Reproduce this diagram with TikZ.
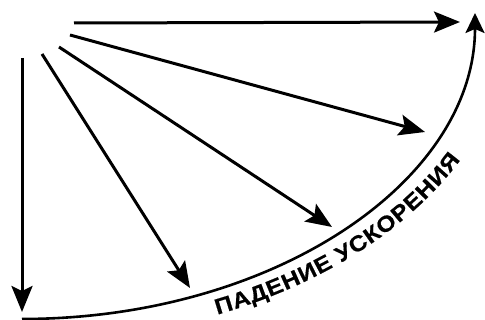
\documentclass[tikz,border=0pt]{standalone}
\usepackage{fontspec}
\setmainfont{Liberation Sans}
\newfontfamily\lblfont[FakeStretch=1.12,FakeBold=0.6]{Liberation Sans}
\usetikzlibrary{arrows.meta,decorations.text}
\begin{document}
\begin{tikzpicture}[x=1pt,y=1pt,
  vec/.style={line width=3pt,-{Stealth[length=26pt,width=21pt,inset=5pt]}},
  curve/.style={line width=2.6pt,-{Stealth[length=20pt,width=19pt,inset=4pt]}}]
\useasboundingbox (0,0) rectangle (485,320);
\coordinate (s1) at (74,297); \coordinate (e1) at (460,298);
\coordinate (s2) at (70,285); \coordinate (e2) at (425,188);
\coordinate (s3) at (59,273); \coordinate (e3) at (332,93);
\coordinate (s4) at (42,266); \coordinate (e4) at (190,32);
\coordinate (s5) at (22,262); \coordinate (e5) at (22,8);
\draw[vec] (s1) -- (e1);
\draw[vec] (s2) -- (e2);
\draw[vec] (s3) -- (e3);
\draw[vec] (s4) -- (e4);
\draw[vec] (s5) -- (e5);
\coordinate (ab) at (22,1);
\draw[curve] (ab) arc[start angle=-90,end angle=0,x radius=453,y radius=306];
\coordinate (tb) at ([shift={(22,307)}]-66.5:490 and 329);
\path[decorate, decoration={text along path,
  text={|\lblfont\bfseries\fontsize{22}{22}\selectfont|ПАДЕНИЕ УСКОРЕНИЯ},
  text align={fit to path}}]
  (tb) arc[start angle=-66.5,end angle=-26.5,x radius=490,y radius=329];
\end{tikzpicture}
\end{document}
